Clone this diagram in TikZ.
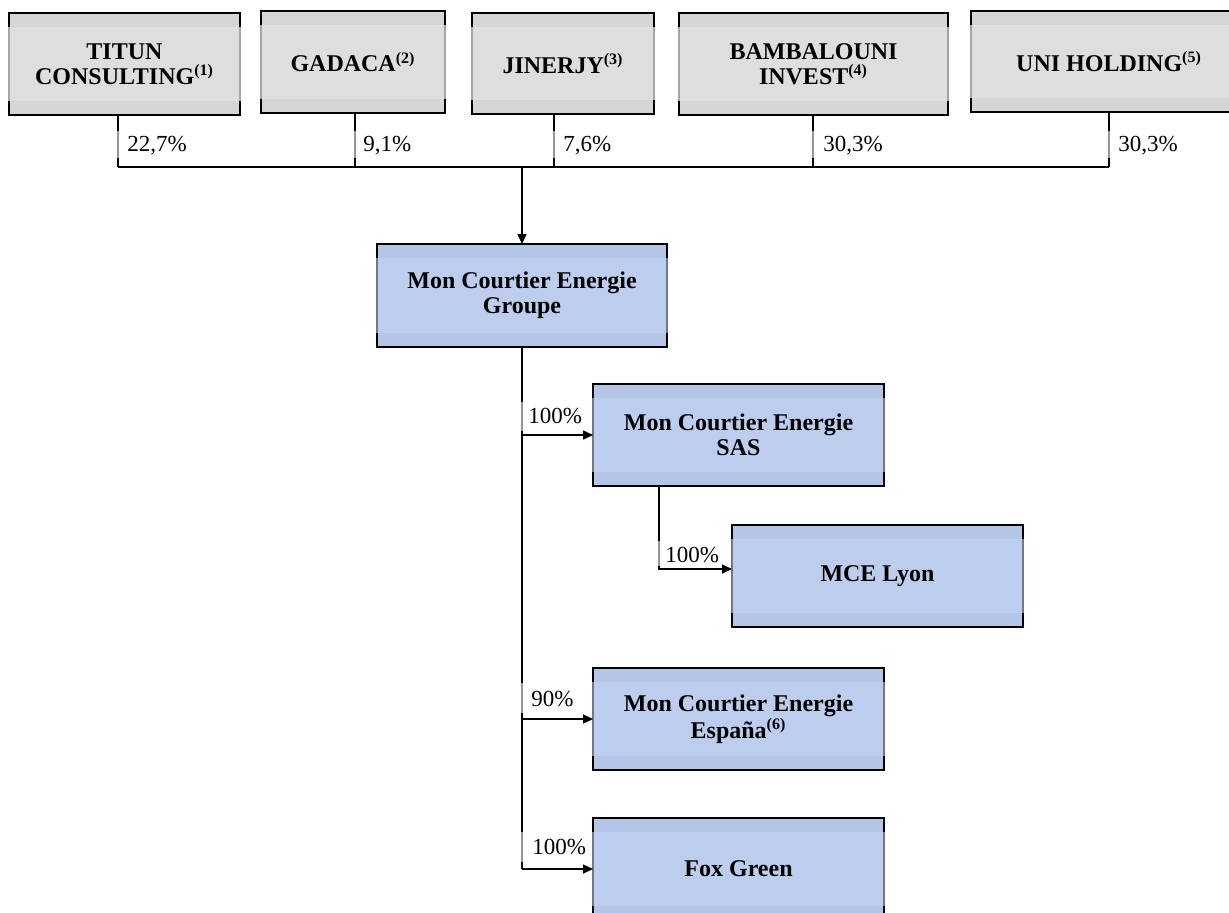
\documentclass[tikz,border=0pt]{standalone}
\usepackage{fontspec}
\setmainfont{Liberation Serif}
\usetikzlibrary{arrows.meta,calc}
\definecolor{gmain}{RGB}{222,222,222}
\definecolor{gband}{RGB}{213,213,213}
\definecolor{bmain}{RGB}{188,205,237}
\definecolor{bband}{RGB}{179,198,231}
\definecolor{sideg}{RGB}{165,165,165}
\definecolor{sideb}{RGB}{110,120,140}
\definecolor{lblg}{RGB}{150,150,150}
\begin{document}
\begin{tikzpicture}[x=0.5pt,y=-0.5pt,
  base/.style={draw=black, line width=1pt, inner sep=0pt, outer sep=0pt, align=center,
    font=\fontsize{12}{12.4}\selectfont\bfseries},
  gbox/.style={base, fill=gband,
    path picture={\fill[gmain] ([yshift=-7pt]path picture bounding box.north west) rectangle ([yshift=7pt]path picture bounding box.south east);}},
  bbox/.style={base, fill=bband,
    path picture={\fill[bmain] ([yshift=-7pt]path picture bounding box.north west) rectangle ([yshift=7pt]path picture bounding box.south east);}},
  link/.style={line width=0.75pt, draw=black},
  arr/.style={link, -{Triangle[length=5pt,width=4.5pt]}},
  pct/.style={anchor=west, inner sep=0pt, font=\fontsize{11.5}{12}\selectfont},
  lblbar/.style={draw=lblg, line width=0.9pt},
]
\useasboundingbox (0,0) rectangle (1229,912);
\clip (0,0) rectangle (1229,912);
\fill[white] (0,0) rectangle (1229,912);

% shareholders
\node[gbox, minimum width=115.5pt, minimum height=51pt]   (t1) at (124.5,64)  {TITUN\\CONSULTING\textsuperscript{(1)}};
\node[gbox, minimum width=92pt,    minimum height=51pt]   (t2) at (353,62)    {GADACA\textsuperscript{(2)}};
\node[gbox, minimum width=91pt,    minimum height=50.5pt] (t3) at (563,63.5)  {JINERJY\textsuperscript{(3)}};
\node[gbox, minimum width=134.5pt, minimum height=51pt]   (t4) at (813.5,64)  {BAMBALOUNI\\INVEST\textsuperscript{(4)}};
\node[gbox, minimum width=138pt,   minimum height=50.5pt] (t5) at (1109,61.5) {UNI HOLDING\textsuperscript{(5)}};

% group companies
\node[bbox, minimum width=145pt,   minimum height=51.5pt] (g)    at (522,295.5) {Mon Courtier Energie\\Groupe};
\node[bbox, minimum width=145.5pt, minimum height=51pt]   (sas)  at (738.5,435) {Mon Courtier Energie\\SAS};
\node[bbox, minimum width=145.5pt, minimum height=51pt]   (lyon) at (877.5,576) {MCE Lyon};
\node[bbox, minimum width=145.5pt, minimum height=51pt]   (esp)  at (738.5,719) {Mon Courtier Energie\\España\textsuperscript{(6)}};
\node[bbox, minimum width=145.5pt, minimum height=51pt]   (fox)  at (738.5,869) {Fox Green};

% side segments of the boxes
\foreach \n in {t1,t2,t3,t4,t5}{
  \draw[sideg, line width=0.8pt] ([yshift=-7pt]\n.north west) -- ([yshift=7pt]\n.south west);
  \draw[sideg, line width=0.8pt] ([yshift=-7pt]\n.north east) -- ([yshift=7pt]\n.south east);
}
\foreach \n in {g,sas,lyon,esp,fox}{
  \draw[sideb, line width=0.8pt] ([yshift=-7pt]\n.north west) -- ([yshift=7pt]\n.south west);
  \draw[sideb, line width=0.8pt] ([yshift=-7pt]\n.north east) -- ([yshift=7pt]\n.south east);
}

% shareholder links
\coordinate (h1) at (118,167);
\coordinate (h2) at (355,167);
\coordinate (h3) at (554,167);
\coordinate (h4) at (813,167);
\coordinate (h5) at (1109,167);
\draw[link] (t1.south -| h1) -- (h1);
\draw[link] (t2.south -| h2) -- (h2);
\draw[link] (t3.south -| h3) -- (h3);
\draw[link] (t4.south -| h4) -- (h4);
\draw[link] (t5.south -| h5) -- (h5);
\draw[link] (h1) -- (h5);
\draw[arr] (g.north |- h1) -- (g.north);

% subsidiaries
\draw[link] (g.south) -- (g.south |- fox.west);
\draw[arr] (g.south |- sas.west) -- (sas.west);
\draw[arr] (g.south |- esp.west) -- (esp.west);
\draw[arr] (g.south |- fox.west) -- (fox.west);
\coordinate (l1) at (659,569);
\draw[arr] (l1 |- sas.south) -- (l1) -- (l1 -| lyon.west);

% percentages
\node[pct] (p1) at (127,146) {22,7\%};
\node[pct] (p2) at (363,146) {9,1\%};
\node[pct] (p3) at (563,146) {7,6\%};
\node[pct] (p4) at (823,146) {30,3\%};
\node[pct] (p5) at (1118,146) {30,3\%};
\node[pct] (q1) at (528,416) {100\%};
\node[pct] (q2) at (665,555) {100\%};
\node[pct] (q3) at (531,699) {90\%};
\node[pct] (q4) at (532,847) {100\%};

% grey label frame edges
\draw[lblbar] ($(p1.west -| h1)+(0,-15)$) -- ($(p1.west -| h1)+(0,12)$);
\draw[lblbar] ($(p2.west -| h2)+(0,-15)$) -- ($(p2.west -| h2)+(0,12)$);
\draw[lblbar] ($(p3.west -| h3)+(0,-15)$) -- ($(p3.west -| h3)+(0,12)$);
\draw[lblbar] ($(p4.west -| h4)+(0,-15)$) -- ($(p4.west -| h4)+(0,12)$);
\draw[lblbar] ($(p5.west -| h5)+(0,-15)$) -- ($(p5.west -| h5)+(0,12)$);
\draw[lblbar] ($(q1.west -| g.south)+(0,-14)$) -- ($(q1.west -| g.south)+(0,15)$);
\draw[lblbar] ($(q2.west -| l1)+(0,-14)$) -- ($(q2.west -| l1)+(0,11)$);
\draw[lblbar] ($(q3.west -| g.south)+(0,-16)$) -- ($(q3.west -| g.south)+(0,14)$);
\draw[lblbar] ($(q4.west -| g.south)+(0,-15)$) -- ($(q4.west -| g.south)+(0,15)$);
\end{tikzpicture}
\end{document}
